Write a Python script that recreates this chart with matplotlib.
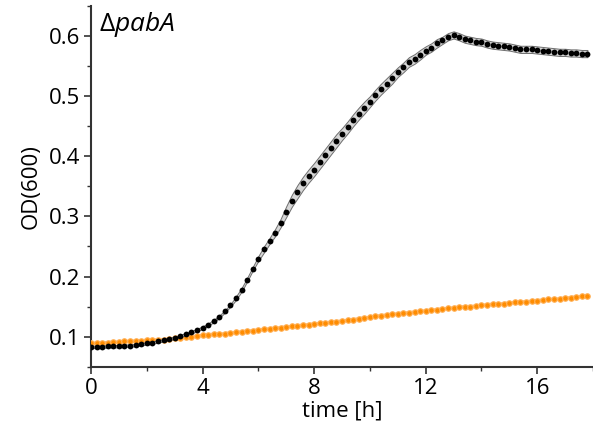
import numpy as np
import matplotlib
matplotlib.use("Agg")
import matplotlib.pyplot as plt
from matplotlib.ticker import MultipleLocator

plt.rcParams["font.family"] = ["Open Sans", "DejaVu Sans"]
plt.rcParams["mathtext.fontset"] = "custom"
plt.rcParams["mathtext.rm"] = "Open Sans"
plt.rcParams["mathtext.it"] = "Open Sans:italic"

# ---- data (sampling every 0.2 h) ---------------------------------------
time_h = np.arange(90) * 0.2

od_pabA = [
    0.083, 0.083, 0.083, 0.084, 0.084, 0.084, 0.085, 0.085, 0.086, 0.087,
    0.089, 0.090, 0.092, 0.094, 0.096, 0.098, 0.101, 0.104, 0.107, 0.111,
    0.115, 0.120, 0.126, 0.133, 0.142, 0.152, 0.164, 0.178, 0.195, 0.213,
    0.230, 0.245, 0.259, 0.273, 0.289, 0.308, 0.326, 0.341, 0.355, 0.367,
    0.378, 0.390, 0.402, 0.414, 0.426, 0.437, 0.448, 0.460, 0.471, 0.481,
    0.491, 0.502, 0.512, 0.521, 0.530, 0.540, 0.548, 0.557, 0.562, 0.569,
    0.576, 0.581, 0.588, 0.593, 0.599, 0.602, 0.599, 0.595, 0.593, 0.591,
    0.590, 0.587, 0.585, 0.584, 0.583, 0.582, 0.580, 0.578, 0.578, 0.578,
    0.577, 0.576, 0.575, 0.574, 0.573, 0.573, 0.572, 0.572, 0.571, 0.571,
]

sd_pabA = [
    0.002, 0.002, 0.002, 0.002, 0.002, 0.002, 0.002, 0.002, 0.002, 0.002,
    0.002, 0.002, 0.002, 0.002, 0.002, 0.002, 0.002, 0.002, 0.002, 0.002,
    0.002, 0.002, 0.002, 0.002, 0.002, 0.002, 0.003, 0.003, 0.003, 0.003,
    0.004, 0.005, 0.005, 0.006, 0.007, 0.009, 0.010, 0.011, 0.011, 0.011,
    0.011, 0.011, 0.011, 0.011, 0.011, 0.010, 0.010, 0.010, 0.010, 0.010,
    0.009, 0.009, 0.009, 0.009, 0.009, 0.008, 0.008, 0.008, 0.008, 0.008,
    0.007, 0.007, 0.007, 0.006, 0.006, 0.006, 0.006, 0.006, 0.006, 0.006,
    0.006, 0.006, 0.006, 0.006, 0.006, 0.006, 0.006, 0.006, 0.006, 0.006,
    0.006, 0.006, 0.006, 0.006, 0.006, 0.006, 0.006, 0.006, 0.006, 0.006,
]

od_ctrl = [
    0.089, 0.089, 0.090, 0.090, 0.091, 0.091, 0.092, 0.092, 0.093, 0.093,
    0.094, 0.094, 0.095, 0.095, 0.096, 0.097, 0.098, 0.099, 0.100, 0.101,
    0.102, 0.103, 0.104, 0.104, 0.105, 0.106, 0.107, 0.108, 0.109, 0.110,
    0.111, 0.112, 0.113, 0.114, 0.115, 0.116, 0.117, 0.118, 0.119, 0.120,
    0.121, 0.122, 0.123, 0.124, 0.125, 0.126, 0.127, 0.128, 0.130, 0.131,
    0.132, 0.134, 0.135, 0.136, 0.137, 0.138, 0.139, 0.140, 0.141, 0.142,
    0.143, 0.144, 0.145, 0.146, 0.147, 0.148, 0.149, 0.150, 0.150, 0.151,
    0.152, 0.153, 0.154, 0.154, 0.155, 0.156, 0.157, 0.158, 0.158, 0.159,
    0.160, 0.161, 0.162, 0.162, 0.163, 0.164, 0.165, 0.166, 0.167, 0.168,
]

xticks = [0, 4, 8, 12, 16]
yticks = [0.1, 0.2, 0.3, 0.4, 0.5, 0.6]

# ---- plot ----------------------------------------------------------------
fig = plt.figure(figsize=(5.93, 4.36), dpi=100)
ax = fig.add_axes([0.1535, 0.159, 0.8465, 0.827])

od = np.array(od_pabA)
sd = np.array(sd_pabA)

ax.plot(time_h, od_ctrl, "-", color="#ffc27a", lw=2.4, zorder=2)
ax.plot(time_h, od_ctrl, "o", color="#ff8c00", ms=4.0, mec="#ffb35c", mew=0.8, zorder=3)

ax.fill_between(time_h, od - sd, od + sd, facecolor="#d6d6d6", edgecolor="#6e6e6e",
                lw=0.7, zorder=4)
ax.plot(time_h, od, "o", color="black", ms=4.2, mew=0, zorder=5)

ax.text(0.016, 0.99, r"$\Delta\mathit{pabA}$", transform=ax.transAxes, fontsize=19,
        va="top", ha="left")

ax.set_xlim(0, 18)
ax.set_ylim(0.05, 0.65)
ax.set_xticks(xticks)
ax.set_yticks(yticks)
ax.set_yticklabels([f"{v:.1f}" for v in yticks])
ax.xaxis.set_minor_locator(MultipleLocator(2))
ax.yaxis.set_minor_locator(MultipleLocator(0.05))

for side in ("top", "right"):
    ax.spines[side].set_visible(False)
for side in ("left", "bottom"):
    ax.spines[side].set_color("#333333")
    ax.spines[side].set_linewidth(1.5)

ax.tick_params(which="major", length=5, width=1.2, color="#333333", labelsize=16, pad=3)
ax.tick_params(which="minor", length=3, width=1.0, color="#333333")

ax.set_xlabel("time [h]", fontsize=16, labelpad=1)
ax.set_ylabel("OD(600)", fontsize=16, labelpad=5)

fig.savefig("out.png", dpi=100)
